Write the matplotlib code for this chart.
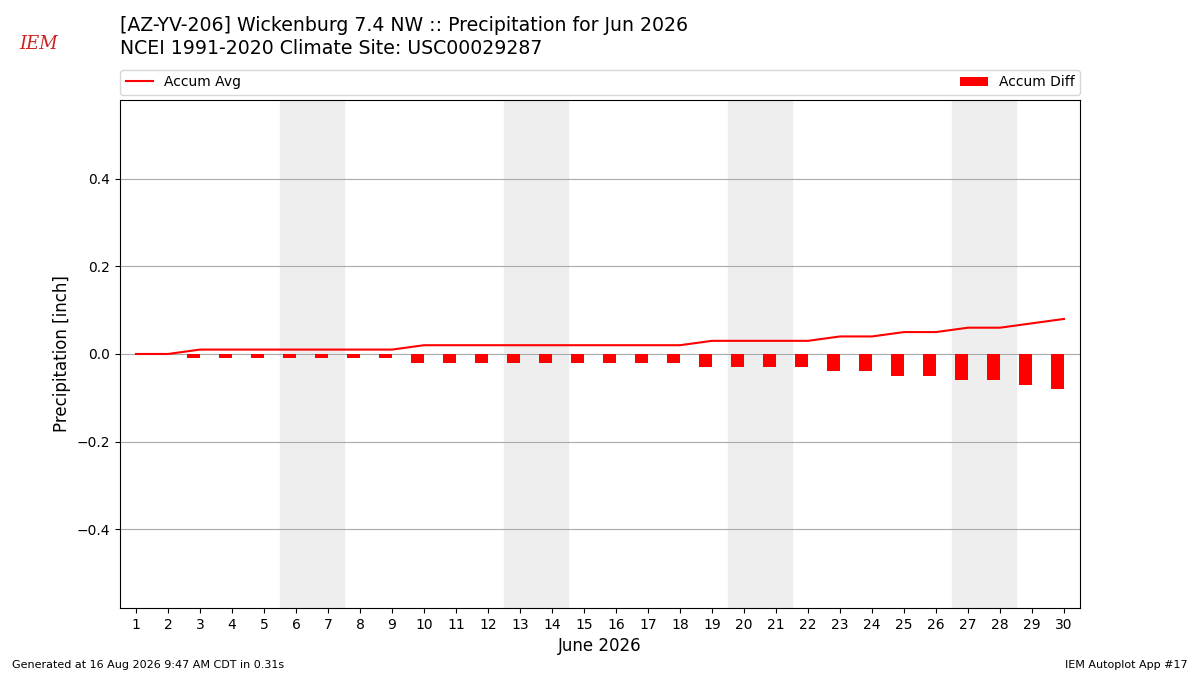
import matplotlib
matplotlib.use('Agg')
import matplotlib.pyplot as plt

# June 2026 daily values
days = list(range(1, 31))
accum_avg = [0.00, 0.00, 0.01, 0.01, 0.01, 0.01, 0.01, 0.01, 0.01, 0.02,
             0.02, 0.02, 0.02, 0.02, 0.02, 0.02, 0.02, 0.02, 0.03, 0.03,
             0.03, 0.03, 0.04, 0.04, 0.05, 0.05, 0.06, 0.06, 0.07, 0.08]
accum_obs = [0.0] * 30
accum_diff = [o - a for o, a in zip(accum_obs, accum_avg)]
weekends = [(6, 7), (13, 14), (20, 21), (27, 28)]

fig = plt.figure(figsize=(12, 6.75), dpi=100)
ax = fig.add_axes([0.1, 0.0993, 0.8, 0.7526])

for start, end in weekends:
    ax.axvspan(start - 0.5, end + 0.5, color='#eeeeee', zorder=0)

ax.bar(days, accum_diff, width=-0.4, align='edge', color='r',
       label='Accum Diff', zorder=3)
ax.plot(days, accum_avg, color='r', lw=1.5, label='Accum Avg', zorder=4)

ax.set_xlim(0.5, 30.5)
ax.set_ylim(-0.58, 0.58)
ax.set_xticks(days)
ax.set_yticks([-0.4, -0.2, 0.0, 0.2, 0.4])
ax.grid(axis='y', color='#aaaaaa', lw=0.8)
ax.set_axisbelow(True)
ax.tick_params(labelsize=10)
ax.set_xlabel('June 2026', fontsize=12)
ax.set_ylabel('Precipitation [inch]', fontsize=12)

ax.legend(bbox_to_anchor=(0, 1.01, 1, 0.05), loc='lower left', ncol=2,
          mode='expand', borderaxespad=0, fontsize=10)

fig.text(0.1, 0.962, '[AZ-YV-206] Wickenburg 7.4 NW :: Precipitation for Jun 2026',
         fontsize=13.6, va='center')
fig.text(0.1, 0.928, 'NCEI 1991-2020 Climate Site: USC00029287',
         fontsize=13.6, va='center')
fig.text(0.016, 0.935, 'IEM', color='#cc2222', fontsize=13, style='italic',
         family='serif', va='center')
fig.text(0.01, 0.01, 'Generated at 16 Aug 2026 9:47 AM CDT in 0.31s', fontsize=8)
fig.text(0.99, 0.01, 'IEM Autoplot App #17', fontsize=8, ha='right')

fig.savefig('out.png', dpi=100)
